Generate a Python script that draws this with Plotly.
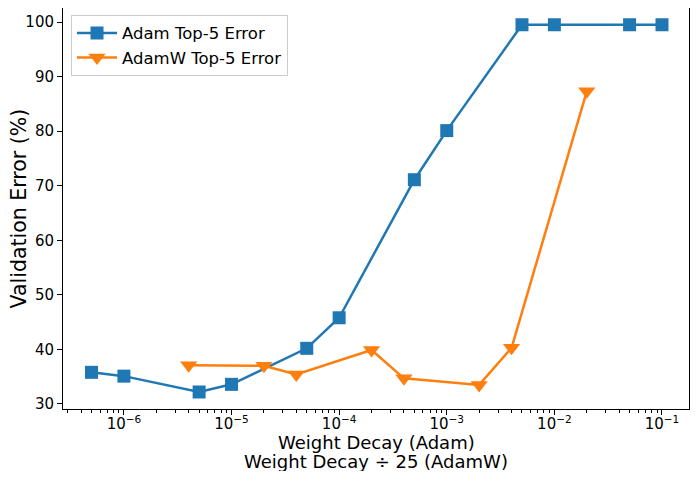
import plotly.graph_objects as go

adam_wd = [5e-7, 1e-6, 5e-6, 1e-5, 5e-5, 1e-4, 5e-4, 1e-3, 5e-3, 1e-2, 5e-2, 1e-1]
adam_err = [35.8, 35.1, 32.2, 33.6, 40.2, 45.8, 71.1, 80.1, 99.5, 99.5, 99.5, 99.5]
adamw_wd = [4e-6, 2e-5, 4e-5, 2e-4, 4e-4, 2e-3, 4e-3, 2e-2]
adamw_err = [37.1, 37.0, 35.4, 39.9, 34.7, 33.5, 40.3, 87.3]

xtick_vals = [1e-6, 1e-5, 1e-4, 1e-3, 1e-2, 1e-1]
xtick_text = ["10<sup>−6</sup>", "10<sup>−5</sup>", "10<sup>−4</sup>", "10<sup>−3</sup>", "10<sup>−2</sup>", "10<sup>−1</sup>"]
ytick_vals = [30, 40, 50, 60, 70, 80, 90, 100]

minor_vals = [m * 10.0 ** e for e in range(-7, 0) for m in range(2, 10)]

fig = go.Figure()
fig.add_trace(go.Scatter(x=adam_wd, y=adam_err, mode="lines+markers", name="Adam Top-5 Error",
                         line=dict(color="#1f77b4", width=2.5),
                         marker=dict(symbol="square", size=13, color="#1f77b4")))
fig.add_trace(go.Scatter(x=adamw_wd, y=adamw_err, mode="lines+markers", name="AdamW Top-5 Error",
                         line=dict(color="#ff7f0e", width=2.5),
                         marker=dict(symbol="triangle-down", size=15, color="#ff7f0e")))

font = "DejaVu Sans, sans-serif"
fig.update_layout(
    width=682, height=463,
    margin=dict(l=55, r=1, t=0, b=62, autoexpand=False),
    paper_bgcolor="white", plot_bgcolor="white",
    font=dict(family=font, color="black", size=15),
    showlegend=True,
    legend=dict(x=0.0128, y=0.983, xanchor="left", yanchor="top",
                bgcolor="rgba(255,255,255,0.8)", bordercolor="#cccccc", borderwidth=1,
                font=dict(size=16.5, family=font), itemwidth=40, tracegroupgap=0),
    xaxis=dict(type="log", range=[-6.566, -0.749], automargin=False,
               tickvals=xtick_vals, ticktext=xtick_text,
               ticks="outside", ticklen=5, tickwidth=1, tickcolor="black",
               ticklabelstandoff=-4,
               showline=True, linecolor="black", linewidth=1, mirror=True,
               showgrid=False, zeroline=False,
               minor=dict(tickvals=minor_vals, ticks="outside", ticklen=2.5, tickcolor="black", showgrid=False),
               tickfont=dict(size=15)),
    yaxis=dict(range=[29.08, 102.57], tickvals=ytick_vals, automargin=False,
               ticks="outside", ticklen=5, tickwidth=1, tickcolor="black",
               showline=True, linecolor="black", linewidth=1, mirror=True,
               showgrid=False, zeroline=False, tickfont=dict(size=15)),
    annotations=[
        dict(text="Weight Decay (Adam)", xref="paper", yref="paper", x=0.5, y=0,
             xanchor="center", yanchor="middle", yshift=-33, showarrow=False,
             font=dict(size=18)),
        dict(text="Weight Decay ÷ 25 (AdamW)", xref="paper", yref="paper", x=0.5, y=0,
             xanchor="center", yanchor="middle", yshift=-52, showarrow=False,
             font=dict(size=18)),
        dict(text="Validation Error (%)", xref="paper", yref="paper", x=0, y=0.5,
             xanchor="center", yanchor="middle", xshift=-45, showarrow=False,
             textangle=-90, font=dict(size=20.5)),
    ],
)
fig.write_html("out.html")
